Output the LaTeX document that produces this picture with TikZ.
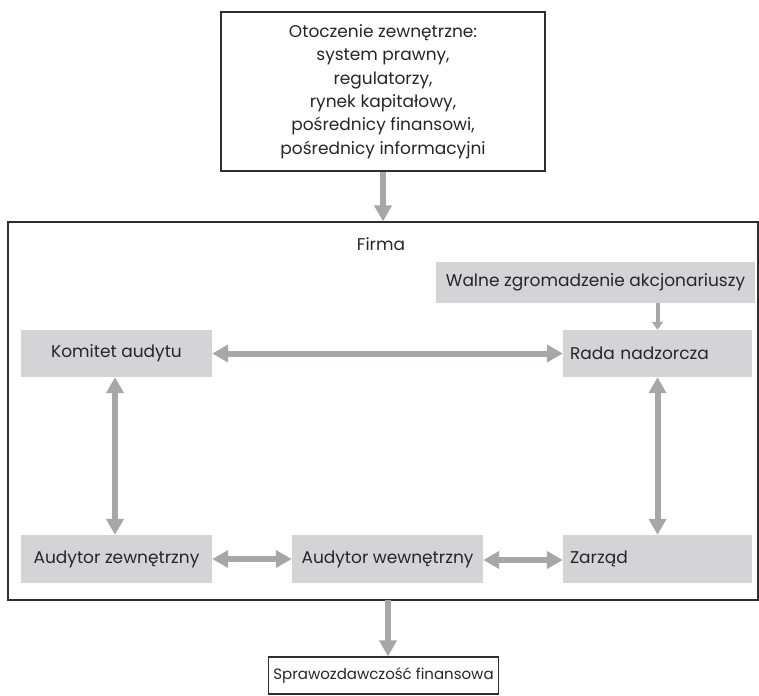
\documentclass[tikz,border=0pt]{standalone}
\usepackage{fontspec}
\setmainfont{Poppins}
\usepackage{tikz}
\usetikzlibrary{arrows.meta}

\definecolor{boxgray}{HTML}{D4D4D6}
\definecolor{arrowgray}{HTML}{A6A7AB}
\definecolor{framegray}{HTML}{2E2E2E}

\begin{document}
\begin{tikzpicture}[x=1pt, y=-1pt,
	every node/.style={font=\fontsize{17}{23.4}\selectfont, text=black!85},
	frame/.style={draw=framegray, line width=1.2pt, inner sep=0pt},
	grey box/.style={fill=boxgray, inner sep=0pt, minimum height=47pt},
	left box/.style={grey box, inner xsep=7pt, text width=175pt, align=left},
	flow/.style={draw=arrowgray, line width=6pt, -{Triangle[width=17pt, length=16pt]}},
	both flow/.style={flow, {Triangle[width=17pt, length=16pt]}-{Triangle[width=17pt, length=16pt]}},
	thin flow/.style={draw=arrowgray, line width=4pt, -{Triangle[width=11pt, length=8pt]}}]
	\useasboundingbox (0,0) rectangle (759,695);

	% outer boxes
	\node[frame, minimum width=324pt, minimum height=159pt, align=center] (env) at (383,91.5)
		{Otoczenie zewnętrzne:\\system prawny,\\regulatorzy,\\rynek kapitałowy,\\pośrednicy finansowi,\\pośrednicy informacyjni};
	\node[frame, minimum width=750pt, minimum height=378pt] (firma) at (383,411) {};
	\node (firmalabel) at (381,244) {Firma};
	\node[frame, inner xsep=5pt, minimum width=219pt, minimum height=37pt, font=\fontsize{15}{18}\selectfont] (spraw) at (383.5,675.5) {Sprawozdawczość finansowa};

	% boxes inside the firm
	\node[grey box, minimum width=319pt, minimum height=41pt] (walne) at (595.5,282.5) {Walne zgromadzenie akcjonariuszy};
	\node[left box] (rada) at (657.5,353.5) {Rada nadzorcza};
	\node[grey box, minimum width=191pt] (komitet) at (116.5,353.5) {Komitet audytu};
	\node[grey box, minimum width=191pt, minimum height=48pt] (azew) at (116.5,559) {Audytor zewnętrzny};
	\node[grey box, minimum width=191pt, minimum height=48pt] (awew) at (387.5,559) {Audytor wewnętrzny};
	\node[left box, minimum height=48pt] (zarzad) at (657.5,559) {Zarząd};

	% connectors
	\coordinate (out) at (388,600);
	\draw[flow] (env.south) -- (firma.north -| env.south);
	\draw[flow] (out) -- (out |- spraw.north);
	\draw[thin flow] (walne.south -| rada.north) -- (rada.north);
	\draw[both flow] (komitet.east) -- (rada.west);
	\draw[both flow] ([xshift=-1.5pt]komitet.south) -- ([xshift=-1.5pt]azew.north);
	\draw[both flow] (rada.south) -- (zarzad.north);
	\draw[both flow] (azew.east) -- (awew.west);
	\draw[both flow] ([yshift=-1pt]awew.east) -- ([yshift=-1pt]zarzad.west);
\end{tikzpicture}
\end{document}
